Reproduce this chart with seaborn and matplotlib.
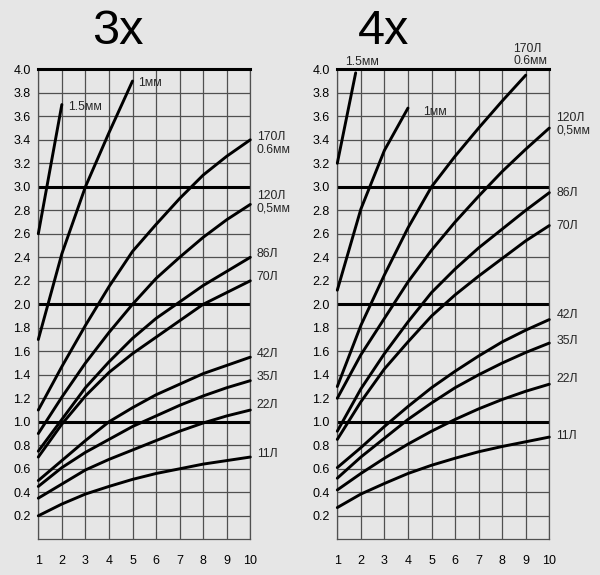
import numpy as np
import pandas as pd
import matplotlib
matplotlib.use("Agg")
import matplotlib.pyplot as plt
import seaborn as sns

# ---------------- data ----------------
x_full = [1, 2, 3, 4, 5, 6, 7, 8, 9, 10]

# 3x panel
x3_15 = [1, 2]
y3_15 = [2.6, 3.7]
x3_1 = [1, 2, 3, 4, 5]
y3_1 = [1.7, 2.43, 3.0, 3.46, 3.9]
y3_170 = [1.10, 1.47, 1.82, 2.15, 2.45, 2.68, 2.90, 3.10, 3.26, 3.40]
y3_120 = [0.90, 1.21, 1.50, 1.76, 2.00, 2.22, 2.40, 2.57, 2.72, 2.85]
y3_86 = [0.75, 1.02, 1.29, 1.51, 1.71, 1.88, 2.02, 2.16, 2.28, 2.40]
y3_70 = [0.70, 0.98, 1.22, 1.42, 1.58, 1.72, 1.86, 2.00, 2.10, 2.20]
y3_42 = [0.50, 0.67, 0.84, 1.00, 1.12, 1.23, 1.32, 1.41, 1.48, 1.55]
y3_35 = [0.45, 0.61, 0.74, 0.85, 0.96, 1.05, 1.14, 1.22, 1.29, 1.35]
y3_22 = [0.35, 0.47, 0.59, 0.68, 0.76, 0.84, 0.92, 0.99, 1.05, 1.10]
y3_11 = [0.20, 0.30, 0.385, 0.45, 0.51, 0.56, 0.60, 0.64, 0.67, 0.70]

# 4x panel
x4_15 = [1, 1.78]
y4_15 = [3.2, 3.97]
x4_1 = [1, 2, 3, 4]
y4_1 = [2.12, 2.81, 3.31, 3.67]
x4_170 = [1, 2, 3, 4, 5, 6, 7, 8, 9]
y4_170 = [1.30, 1.82, 2.25, 2.65, 3.00, 3.26, 3.50, 3.73, 3.95]
y4_120 = [1.20, 1.57, 1.88, 2.19, 2.46, 2.70, 2.92, 3.13, 3.32, 3.50]
y4_86 = [0.92, 1.28, 1.58, 1.85, 2.10, 2.30, 2.48, 2.64, 2.80, 2.95]
y4_70 = [0.85, 1.17, 1.45, 1.68, 1.90, 2.08, 2.24, 2.39, 2.54, 2.67]
y4_42 = [0.61, 0.78, 0.96, 1.13, 1.29, 1.43, 1.56, 1.68, 1.78, 1.87]
y4_35 = [0.52, 0.70, 0.86, 1.02, 1.16, 1.29, 1.40, 1.50, 1.59, 1.67]
y4_22 = [0.42, 0.56, 0.69, 0.81, 0.92, 1.02, 1.11, 1.19, 1.26, 1.32]
y4_11 = [0.27, 0.385, 0.475, 0.56, 0.63, 0.69, 0.745, 0.79, 0.83, 0.87]

titles = ["3x", "4x"]
y_ticks = [round(0.2 * i, 1) for i in range(1, 21)]

panel3 = [
    (x3_15, y3_15, "1.5мм", (2.25, 3.68)),
    (x3_1, y3_1, "1мм", (5.22, 3.88)),
    (x_full, y3_170, "170Л\n0.6мм", (10.27, 3.37)),
    (x_full, y3_120, "120Л\n0,5мм", (10.27, 2.87)),
    (x_full, y3_86, "86Л", (10.27, 2.43)),
    (x_full, y3_70, "70Л", (10.27, 2.23)),
    (x_full, y3_42, "42Л", (10.27, 1.58)),
    (x_full, y3_35, "35Л", (10.27, 1.38)),
    (x_full, y3_22, "22Л", (10.27, 1.14)),
    (x_full, y3_11, "11Л", (10.27, 0.73)),
]
panel4 = [
    (x4_15, y4_15, "1.5мм", (1.33, 4.06)),
    (x4_1, y4_1, "1мм", (4.65, 3.64)),
    (x4_170, y4_170, "170Л\n0.6мм", (8.47, 4.12)),
    (x_full, y4_120, "120Л\n0,5мм", (10.3, 3.53)),
    (x_full, y4_86, "86Л", (10.3, 2.95)),
    (x_full, y4_70, "70Л", (10.3, 2.67)),
    (x_full, y4_42, "42Л", (10.3, 1.91)),
    (x_full, y4_35, "35Л", (10.3, 1.69)),
    (x_full, y4_22, "22Л", (10.3, 1.36)),
    (x_full, y4_11, "11Л", (10.3, 0.88)),
]

# ---------------- style ----------------
sns.set_theme(style="white")
plt.rcParams["font.family"] = ["Liberation Sans", "DejaVu Sans"]

BG = "#e6e6e6"
GRID = "#505050"

W, H = 600, 575
fig = plt.figure(figsize=(W / 100, H / 100), dpi=100, facecolor=BG)

ax_left_px = [38.3, 337.3]
ax_w_px = 212.0
ax_top_px, ax_bot_px = 69.3, 539.3
title_cx = [118, 384]

for i, (panel, title) in enumerate(zip([panel3, panel4], titles)):
    ax = fig.add_axes([ax_left_px[i] / W, 1 - ax_bot_px / H,
                       ax_w_px / W, (ax_bot_px - ax_top_px) / H])
    ax.set_facecolor(BG)
    ax.set_xlim(1, 10)
    ax.set_ylim(0, 4)
    ax.set_xticks(x_full)
    ax.set_xticklabels([str(v) for v in x_full], fontsize=9)
    ax.set_yticks(y_ticks)
    ax.set_yticklabels([f"{v:.1f}" for v in y_ticks], fontsize=9)
    ax.tick_params(axis="both", length=0, colors="black")
    ax.tick_params(axis="x", pad=11.5)
    ax.tick_params(axis="y", pad=5.5)
    ax.grid(True, color=GRID, linewidth=0.9)
    ax.set_axisbelow(True)
    for s in ["left", "right", "bottom"]:
        ax.spines[s].set_visible(True)
        ax.spines[s].set_color(GRID)
        ax.spines[s].set_linewidth(0.9)
    ax.spines["top"].set_visible(True)
    ax.spines["top"].set_color("black")
    ax.spines["top"].set_linewidth(2.2)
    for yv in [1.0, 2.0, 3.0]:
        ax.axhline(yv, color="black", linewidth=2.2, zorder=2)

    for xs, ys, lab, (tx, ty) in panel:
        df = pd.DataFrame({"x": xs, "y": ys})
        sns.lineplot(data=df, x="x", y="y", ax=ax, color="black",
                     linewidth=2.1, zorder=3, clip_on=False)
        ax.text(tx, ty, lab, ha="left", va="center", fontsize=8.8,
                linespacing=1.05, clip_on=False)
    ax.set_xlabel("")
    ax.set_ylabel("")

    fig.text(title_cx[i] / W, 1 - 44 / H, title, ha="center", va="baseline",
             fontsize=35, color="black")

fig.savefig("out.png", dpi=100, facecolor=BG)
